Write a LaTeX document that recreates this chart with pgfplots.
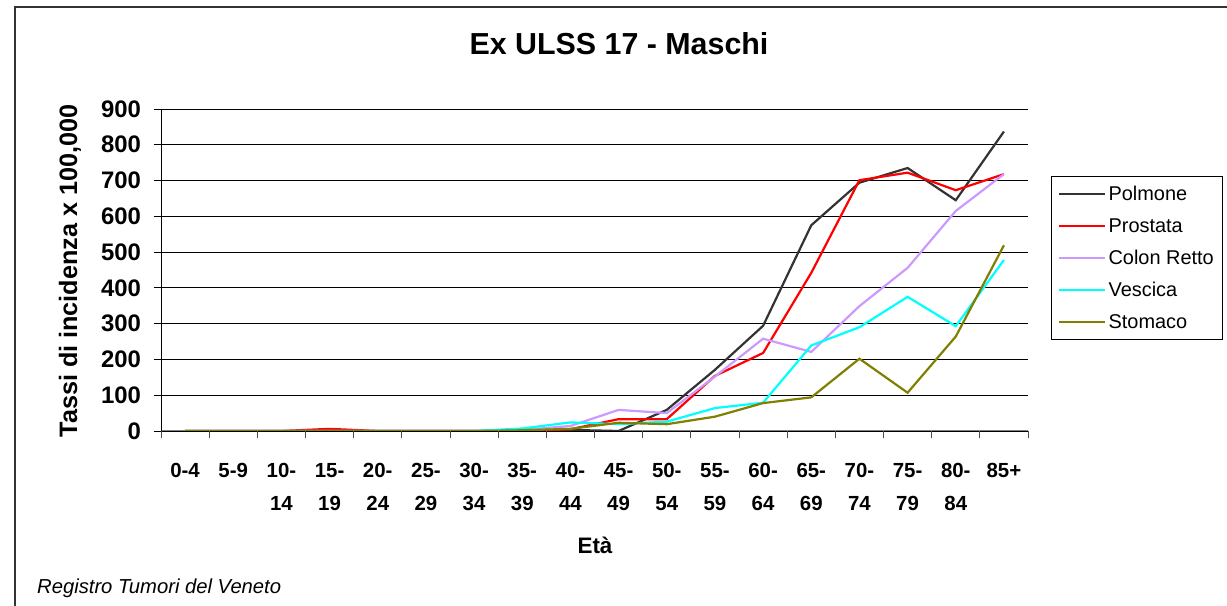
\documentclass[border=0pt]{standalone}
\usepackage{fontspec}
\setmainfont{Liberation Sans}
\usepackage{pgfplots}
\pgfplotsset{compat=1.18}
\definecolor{cPolmone}{HTML}{333333}
\definecolor{cProstata}{HTML}{FF0000}
\definecolor{cColon}{HTML}{CC99FF}
\definecolor{cVescica}{HTML}{00FFFF}
\definecolor{cStomaco}{HTML}{808000}
% age class label: fixed first-line height so all labels sit on one baseline
\newcommand\ag[2]{\rule{0pt}{15bp}#1\\#2}
\newcommand\agone[1]{\rule{0pt}{15bp}#1}
\begin{document}
\begin{tikzpicture}[x=1bp,y=1bp]
\useasboundingbox (0,0) rectangle (1227,606);
% outer chart frame (cropped at right and bottom)
\draw[line width=2bp, black!80] (15,-5) -- (15,599) -- (1240,599);
\node[anchor=base, font=\bfseries\fontsize{30.5}{36}\selectfont] at (619,551) {Ex ULSS 17 - Maschi};
\node[anchor=base, rotate=90, font=\bfseries\fontsize{25.3}{30}\selectfont] at (77,335) {Tassi di incidenza x 100,000};
\node[anchor=base, font=\bfseries\fontsize{22.5}{27}\selectfont] at (595,52) {Età};
\node[anchor=base west, inner sep=0pt, font=\itshape\fontsize{20.3}{24}\selectfont] at (37,12) {Registro Tumori del Veneto};
\begin{axis}[
  at={(161bp,175bp)}, anchor=south west,
  scale only axis, width=867bp, height=322bp,
  xmin=-0.5, xmax=17.5, ymin=0, ymax=900,
  axis x line*=bottom, axis y line*=left,
  x axis line style={draw=gray, line width=1bp},
  y axis line style={draw=black, line width=0.8bp},
  ytick={0,100,...,900},
  ymajorgrids, major grid style={black, line width=0.8bp},
  tick align=outside, major tick length=7.5bp,
  ytick style={black, line width=0.8bp},
  xtick={-0.5,0.5,...,17.5}, x tick label as interval,
  xtick style={black!70, line width=0.8bp},
  xticklabels={\agone{0-4},\agone{5-9},\ag{10-}{14},\ag{15-}{19},\ag{20-}{24},\ag{25-}{29},\ag{30-}{34},\ag{35-}{39},\ag{40-}{44},\ag{45-}{49},\ag{50-}{54},\ag{55-}{59},\ag{60-}{64},\ag{65-}{69},\ag{70-}{74},\ag{75-}{79},\ag{80-}{84},\agone{85+}},
  xticklabel style={font=\bfseries\fontsize{20.5}{33}\selectfont, align=center, anchor=north, yshift=-20.5bp},
  yticklabel style={font=\bfseries\fontsize{24}{28}\selectfont, xshift=-9bp},
  /pgf/number format/assume math mode=true,
  legend cell align=left,
  legend image code/.code={\draw[#1] (0bp,0bp) -- (46bp,0bp);},
  legend style={at={(rel axis cs:1.0265,0.792)}, anchor=north west,
    draw=black, line width=0.8bp, font=\fontsize{20}{24}\selectfont,
    row sep=7bp, inner xsep=7bp, inner ysep=5bp,
    nodes={inner sep=2bp, text height=17bp, text depth=4bp}},
]
\addplot[cPolmone, line width=2.2bp] coordinates {(0,0) (1,0) (2,0) (3,0) (4,0) (5,0) (6,0) (7,0) (8,3) (9,0) (10,59) (11,171) (12,294) (13,575) (14,694) (15,735) (16,645) (17,837)};
\addlegendentry{Polmone}
\addplot[cProstata, line width=2.2bp] coordinates {(0,0) (1,0) (2,0) (3,6) (4,0) (5,0) (6,0) (7,0) (8,5) (9,33) (10,33) (11,154) (12,218) (13,442) (14,701) (15,722) (16,673) (17,718)};
\addlegendentry{Prostata}
\addplot[cColon, line width=2.2bp] coordinates {(0,0) (1,0) (2,0) (3,0) (4,0) (5,0) (6,0) (7,3) (8,14) (9,59) (10,50) (11,152) (12,258) (13,221) (14,349) (15,456) (16,615) (17,718)};
\addlegendentry{Colon Retto}
\addplot[cVescica, line width=2.2bp] coordinates {(0,0) (1,0) (2,0) (3,0) (4,0) (5,0) (6,0) (7,7) (8,24) (9,19) (10,26) (11,64) (12,79) (13,239) (14,290) (15,375) (16,293) (17,478)};
\addlegendentry{Vescica}
\addplot[cStomaco, line width=2.2bp] coordinates {(0,0) (1,0) (2,0) (3,0) (4,0) (5,0) (6,0) (7,2) (8,6) (9,23) (10,19) (11,40) (12,78) (13,94) (14,202) (15,107) (16,264) (17,519)};
\addlegendentry{Stomaco}
\end{axis}
\end{tikzpicture}
\end{document}
